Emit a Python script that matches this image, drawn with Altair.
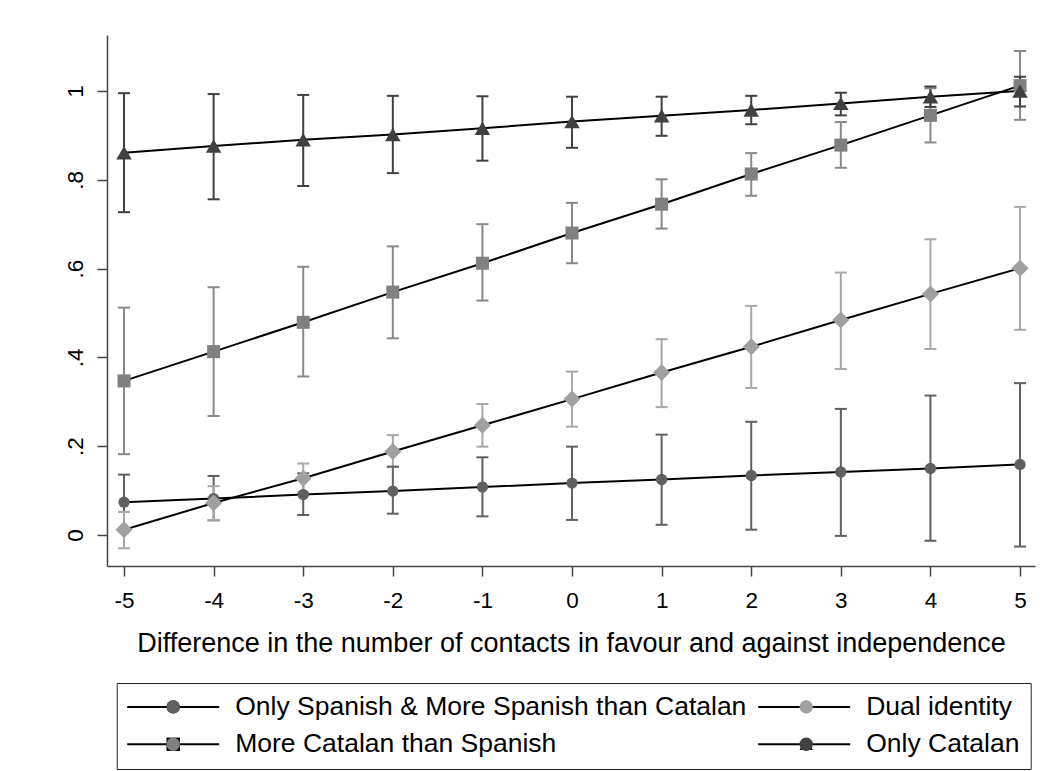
import altair as alt
import pandas as pd

# ---------------- data ----------------
X_VALUES = [-5, -4, -3, -2, -1, 0, 1, 2, 3, 4, 5]

SERIES = [
    "Only Spanish & More Spanish than Catalan",
    "Dual identity",
    "More Catalan than Spanish",
    "Only Catalan",
]

spanish_mean = [0.074, 0.082, 0.091, 0.099, 0.108, 0.117, 0.125, 0.134, 0.142, 0.150, 0.159]
spanish_lo = [0.012, 0.033, 0.045, 0.048, 0.042, 0.034, 0.023, 0.012, -0.002, -0.013, -0.026]
spanish_hi = [0.136, 0.133, 0.139, 0.154, 0.175, 0.199, 0.226, 0.255, 0.284, 0.314, 0.342]

dual_mean = [0.012, 0.072, 0.128, 0.188, 0.247, 0.306, 0.366, 0.424, 0.484, 0.543, 0.601]
dual_lo = [-0.030, 0.034, 0.096, 0.153, 0.199, 0.244, 0.288, 0.331, 0.374, 0.419, 0.462]
dual_hi = [0.052, 0.110, 0.161, 0.225, 0.295, 0.368, 0.441, 0.516, 0.591, 0.666, 0.739]

morecat_mean = [0.347, 0.413, 0.479, 0.547, 0.612, 0.680, 0.745, 0.813, 0.878, 0.945, 1.012]
morecat_lo = [0.182, 0.268, 0.357, 0.443, 0.528, 0.612, 0.690, 0.764, 0.827, 0.884, 0.935]
morecat_hi = [0.512, 0.558, 0.604, 0.650, 0.700, 0.748, 0.801, 0.860, 0.930, 1.006, 1.090]

onlycat_mean = [0.861, 0.876, 0.890, 0.902, 0.916, 0.931, 0.944, 0.957, 0.972, 0.987, 1.000]
onlycat_lo = [0.727, 0.756, 0.786, 0.815, 0.843, 0.872, 0.899, 0.925, 0.945, 0.964, 0.965]
onlycat_hi = [0.995, 0.993, 0.991, 0.989, 0.988, 0.987, 0.987, 0.989, 0.996, 1.010, 1.032]

Y_TICKS = [0, 0.2, 0.4, 0.6, 0.8, 1]
X_TITLE = "Difference in the number of contacts in favour and against independence"

# ---------------- build table ----------------
rows = []
for name, m, lo, hi in [
    (SERIES[0], spanish_mean, spanish_lo, spanish_hi),
    (SERIES[1], dual_mean, dual_lo, dual_hi),
    (SERIES[2], morecat_mean, morecat_lo, morecat_hi),
    (SERIES[3], onlycat_mean, onlycat_lo, onlycat_hi),
]:
    for x, a, b, c in zip(X_VALUES, m, lo, hi):
        rows.append({"series": name, "x": x, "mean": a, "lo": b, "hi": c})
df = pd.DataFrame(rows)

# ---------------- styles ----------------
FONT = "Liberation Sans"
MARKER_COLORS = ["#606060", "#a0a0a0", "#808080", "#404040"]
BAR_COLORS = ["#606060", "#a8a8a8", "#888888", "#404040"]
SHAPES = ["circle", "diamond", "square", "triangle-up"]
SIZES = [127, 289, 170, 240]

W, H = 928, 531
xscale = alt.Scale(domain=[-5.19, 5.167], nice=False, zero=False)
yscale = alt.Scale(domain=[-0.0698, 1.126], nice=False, zero=False)

TICK_FS = 22.5
x_axis = alt.Axis(
    values=X_VALUES, title=X_TITLE, labelExpr="'' + datum.value",
    labelPadding=13.2, titleBaseline="alphabetic", titleY=85.7, titleX=W / 2,
    titleAlign="center", labelFlush=False,
)
y_axis = alt.Axis(
    values=Y_TICKS, title=None,
    labelExpr="datum.value == 0 ? '0' : datum.value == 1 ? '1' : replace(format(datum.value, '.1f'), '0.', '.')",
    labelAngle=270, labelAlign="center", labelBaseline="alphabetic", labelPadding=14.4,
)

X = alt.X("x:Q", scale=xscale, axis=x_axis)
Y = alt.Y("mean:Q", scale=yscale, axis=y_axis)
YLO = alt.Y("lo:Q", scale=yscale, axis=y_axis)
YHI = alt.Y("hi:Q", scale=yscale, axis=y_axis)

bar_color = alt.Color("series:N", sort=SERIES, scale=alt.Scale(range=BAR_COLORS), legend=None)

base = alt.Chart(df)

bars = base.mark_rule(strokeWidth=2).encode(x=X, y=YLO, y2="hi:Q", color=bar_color)
caps_lo = base.mark_rule(strokeWidth=2, xOffset=-6, x2Offset=6).encode(
    x=X, x2="x:Q", y=YLO, color=bar_color
)
caps_hi = base.mark_rule(strokeWidth=2, xOffset=-6, x2Offset=6).encode(
    x=X, x2="x:Q", y=YHI, color=bar_color
)

# ---------------- legends (line legend + marker legend drawn on the same spot) ----------------
LEG_X, LEG_Y = 9.7, 648.0
L0, L1 = -1.325, 7.875
LINE_PATH = f"M{L0},0L{L1},0"
SYM_OFFSET = 32.75
SPACER = " " * 69  # blank labels for the marker-only legend

line_legend = alt.Legend(
    orient="none", legendX=LEG_X, legendY=LEG_Y, title=None,
    symbolType=LINE_PATH, symbolSize=400, symbolStrokeWidth=2, labelColor="black",
    labelOffset=81.5, strokeColor="#222222", zindex=1,
)
marker_legend = alt.Legend(
    orient="none", legendX=LEG_X, legendY=LEG_Y, title=None,
    symbolSize=180, symbolOffset=SYM_OFFSET, symbolStrokeWidth=0, symbolOpacity=1,
    labelOffset=57, labelExpr=f"'{SPACER}'", columnPadding=516, zindex=2,
)

lines = base.transform_calculate(line_key="datum.series").mark_line(strokeWidth=2).encode(
    x=X, y=Y,
    stroke=alt.Stroke("line_key:N", sort=SERIES,
                      scale=alt.Scale(range=["black"] * 4), legend=line_legend),
)

point_layers = []
for name, shp, col, sz in zip(SERIES, SHAPES, MARKER_COLORS, SIZES):
    point_layers.append(
        base.transform_filter(alt.datum.series == name)
        .mark_point(filled=True, shape=shp, size=sz, color=col, opacity=1, strokeWidth=0)
        .encode(x=X, y=Y)
    )

# invisible layer that only carries the marker legend
legend_layer = base.mark_point(filled=True, opacity=0, strokeWidth=0).encode(
    x=X, y=Y,
    fill=alt.Fill("series:N", sort=SERIES, scale=alt.Scale(range=MARKER_COLORS), legend=marker_legend),
    shape=alt.Shape("series:N", sort=SERIES, scale=alt.Scale(range=SHAPES), legend=marker_legend),
)

AX_COLOR = "#444444"
chart = alt.layer(bars, caps_lo, caps_hi, lines, *point_layers, legend_layer).properties(
    width=W, height=H,
    autosize=alt.AutoSizeParams(type="none"),
    padding={"left": 99, "top": 27, "right": 16, "bottom": 205},
    background="white",
).configure_view(strokeWidth=0).configure_axis(
    grid=False, tickSize=10, tickWidth=1.5, tickColor=AX_COLOR,
    domainColor=AX_COLOR, domainWidth=1.5,
    labelFont=FONT, labelFontSize=TICK_FS, labelColor="black",
    titleFont=FONT, titleFontSize=27, titleFontWeight="normal", titleColor="black",
).configure_legend(
    columns=2, direction="horizontal", labelFont=FONT, labelFontSize=26.5,
    labelLimit=0, columnPadding=7, rowPadding=10.5, padding=10.5,
)

chart.save("out.html", embed_options={"renderer": "svg", "actions": False})
